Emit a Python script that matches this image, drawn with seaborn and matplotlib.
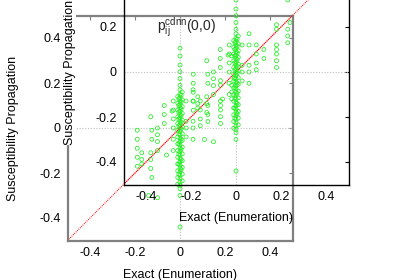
import matplotlib
matplotlib.use("Agg")
import matplotlib.pyplot as plt
import pandas as pd
import seaborn as sns

# exact (enumeration) value and susceptibility-propagation estimate, one pair per point
exact = [
    0, 0, 0, 0, 0, 0, 0, 0, 0, 0, 0, 0, 0, 0, 0, 0, 0, 0,
    0, 0, 0, 0, 0, 0, 0, 0, 0, 0, 0, 0, 0, 0, 0, 0, 0, 0, 0, 0,
    -0.01, -0.01, -0.01, -0.01, -0.01, -0.01, -0.01, -0.01, -0.01, -0.01, -0.01, -0.01, -0.01, -0.01,
    0.01, 0.01, 0.01, 0.01, 0.01, 0.01, 0.01, 0.01, 0.01, 0.01, 0.01, 0.01, 0.01, 0.01,
    -0.005, -0.005, -0.005, -0.005, -0.005, -0.005, -0.005, -0.005, -0.005, -0.005,
    0.005, 0.005, 0.005, 0.005, 0.005, 0.005, 0.005, 0.005, 0.005, 0.005,
    -0.19, -0.19, -0.19, -0.19, -0.19,
    -0.17, -0.17, -0.17,
    -0.14,
    -0.13, -0.13, -0.13, -0.13,
    -0.125, -0.125, -0.125,
    -0.10, -0.10, -0.10, -0.10, -0.10,
    -0.07, -0.07, -0.07,
    -0.06,
    -0.035, -0.03, -0.03, -0.03, -0.03, -0.03, -0.03,
    0.027, 0.027, 0.027, 0.027,
    0.058, 0.058, 0.058, 0.058, 0.058,
    0.09, 0.09, 0.09, 0.09,
    0.124, 0.124,
    0.18, 0.18, 0.18, 0.18, 0.18, 0.18, 0.18,
    0.23, 0.23, 0.23, 0.23,
    0.24,
]
propagation = [
    -0.44, -0.30, -0.27, -0.255, -0.24, -0.225, -0.21, -0.195, -0.18, -0.165, -0.15, -0.135, -0.12, -0.105, -0.09, -0.075, -0.06, -0.045,
    -0.03, -0.015, 0.0, 0.015, 0.03, 0.045, 0.06, 0.075, 0.09, 0.105, 0.12, 0.135, 0.15, 0.17, 0.19, 0.22, 0.25, 0.28, 0.32, 0.355,
    -0.25, -0.22, -0.19, -0.16, -0.13, -0.10, -0.07, -0.04, -0.01, 0.02, 0.05, 0.08, 0.11, 0.14,
    -0.235, -0.205, -0.175, -0.145, -0.115, -0.085, -0.055, -0.025, 0.005, 0.035, 0.065, 0.095, 0.125, 0.16,
    -0.205, -0.16, -0.115, -0.07, -0.025, 0.01, 0.04, 0.07, 0.10, 0.13,
    -0.185, -0.14, -0.095, -0.05, -0.005, 0.025, 0.055, 0.085, 0.115, 0.145,
    -0.01, -0.05, -0.09, -0.13, -0.17,
    -0.11, -0.14, -0.16,
    -0.30,
    -0.11, -0.14, -0.18, 0.05,
    -0.01, -0.05, -0.22,
    0.0, -0.03, -0.06, -0.10, -0.31,
    0.10, 0.06, 0.02,
    -0.12,
    0.075, 0.12, 0.08, 0.04, 0.0, -0.05, -0.10,
    0.12, 0.03, 0.0, -0.04,
    0.17, 0.12, 0.03, 0.0, -0.05,
    0.12, 0.08, 0.04, 0.01,
    0.10, 0.06,
    0.21, 0.19, 0.12, 0.10, 0.08, 0.05, 0.02,
    0.19, 0.16, 0.13, 0.32,
    0.22,
]

ticks = [-0.4, -0.2, 0, 0.2, 0.4]
tick_labels = ["-0.4", "-0.2", "0", "0.2", "0.4"]
x_label = "Exact (Enumeration)"
y_label = "Susceptibility Propagation"
key_label = r"$p_{ij}^{cdnn}$(0,0)"

df = pd.DataFrame({"exact": exact, "prop": propagation})

sns.set_theme(style="white")
plt.rcParams["font.family"] = ["Liberation Sans", "DejaVu Sans"]
plt.rcParams["axes.unicode_minus"] = False
plt.rcParams["mathtext.fontset"] = "custom"
plt.rcParams["mathtext.rm"] = "Liberation Sans"
plt.rcParams["mathtext.default"] = "regular"


def draw_panel(ax, frame_color, frame_width, label_box=False):
    ax.set_facecolor("none")
    ax.axhline(0, color="#c0c0c0", lw=0.8, ls=(0, (1, 1.5)), zorder=1)
    ax.axvline(0, color="#c0c0c0", lw=0.8, ls=(0, (1, 1.5)), zorder=1)
    ax.axline((0, 0), slope=1, color="red", lw=0.7, ls=(0, (1, 1)), zorder=2)
    sns.scatterplot(data=df, x="exact", y="prop", ax=ax, marker="o", s=8,
                    facecolors="none", edgecolor="#22ee22", linewidth=0.55,
                    zorder=3, legend=False)
    ax.set_xlim(-0.5, 0.5)
    ax.set_ylim(-0.5, 0.5)
    ax.set_xticks(ticks)
    ax.set_xticklabels(tick_labels)
    ax.set_yticks(ticks)
    ax.set_yticklabels(tick_labels)
    ax.tick_params(direction="in", length=3, width=0.8, color=frame_color,
                   top=True, right=True, labelsize=9, pad=5, labelcolor="black")
    for s in ax.spines.values():
        s.set_visible(True)
        s.set_color(frame_color)
        s.set_linewidth(frame_width)
    ax.set_xlabel(x_label, fontsize=9, color="black")
    bbox = dict(facecolor="white", edgecolor="none", pad=0) if label_box else None
    ax.set_ylabel(y_label, fontsize=9, color="black", bbox=bbox)


fig = plt.figure(figsize=(4, 2.8), dpi=100)

back = fig.add_axes([67.5 / 400, 39.5 / 280, 225 / 400, 225 / 280])
draw_panel(back, "#808080", 1.6)
back.xaxis.set_label_coords(0.5, -0.125)
back.yaxis.set_label_coords(-0.215, 0.5)

front = fig.add_axes([123.5 / 400, 95.5 / 280, 225 / 400, 225 / 280])
draw_panel(front, "black", 1.0, label_box=True)
front.xaxis.set_label_coords(0.5, -0.12)
front.yaxis.set_label_coords(-0.21, 0.5)

fig.text(157 / 400, 1 - 31 / 280, key_label, fontsize=10, ha="left", va="baseline")

fig.savefig("out.png", dpi=100)
